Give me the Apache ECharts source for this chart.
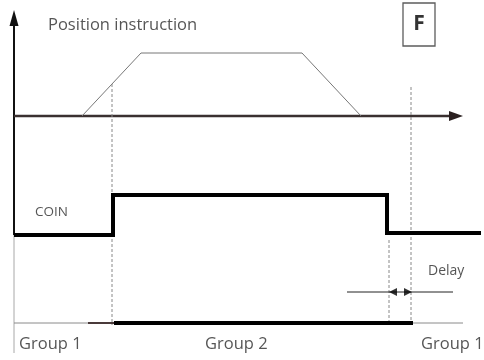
<!DOCTYPE html>
<html>
<head>
<meta charset="utf-8">
<script src="https://cdn.jsdelivr.net/npm/echarts@6/dist/echarts.min.js"></script>
<style>
    html, body { margin: 0; padding: 0; background: #fff; }
    #chart { width: 484px; height: 360px; }
</style>
</head>
<body>
<div id="chart"></div>
<script>
// timing points (horizontal) and signal levels (vertical) of the diagram
const axisOrigin = [14, 116]
const axisEnd = [463, 10]
const axisBottom = 353
const positionTimes = [82, 141, 302, 361]
const positionLevels = [116, 53, 53, 116]
const coinTimes = [14, 113, 113, 387, 387, 481]
const coinLevels = [235, 235, 195, 195, 233, 233]
const groupLevel = 323
const groupRange = [14, 463]
const pendingRange = [88, 114]
const group2Range = [114, 413]
const guideTimes = [112, 389, 411]
const guideTops = [84, 240, 87]
const guideBottoms = [325, 323, 325]
const delayLevel = 292
const delayLine = [347, 453]
const delayArrows = [389, 412]
const groupLabels = ['Group 1', 'Group 2', 'Group 1']
const groupLabelTimes = [19, 205, 421]
const groupLabelLevel = 344

const font = '"Open Sans", sans-serif'

const pairs = (xs, ys) => xs.map((x, i) => [x, ys[i]])

const line = (data, color, width, extra) => ({
    type: 'line',
    data: data,
    symbol: 'none',
    silent: true,
    lineStyle: Object.assign({ color: color, width: width, cap: 'butt', join: 'miter' }, extra || {}),
    z: 2,
})

const textPoint = (x, y, text, size, align, extra) => ({
    value: [x, y],
    label: Object.assign({
        show: true, formatter: text, position: 'inside', align: align || 'left',
        verticalAlign: 'middle', color: '#2b2b2b', fontSize: size, fontFamily: font,
    }, extra || {}),
})

const series = []

// axes with arrow heads
series.push(line([
    [axisOrigin[0], coinLevels[0]],
    { value: [axisOrigin[0], axisEnd[1] + 8], symbol: 'triangle', symbolSize: [9, 16] },
], '#111', 2))
series[series.length - 1].itemStyle = { color: '#111' }
series.push(line([[axisOrigin[0], coinLevels[0]], [axisOrigin[0], axisBottom]], '#a8a8a8', 1))
series.push(line([
    [axisOrigin[0], axisOrigin[1]],
    { value: [axisEnd[0] - 7, axisOrigin[1]], symbol: 'triangle', symbolRotate: -90, symbolSize: [10, 14] },
], '#3a3030', 2.5))
series[series.length - 1].itemStyle = { color: '#2a2020' }

// position instruction
series.push(line(pairs(positionTimes, positionLevels), '#777', 1))

// dashed guides
guideTimes.forEach((t, i) => {
    series.push(line([[t, guideTops[i]], [t, guideBottoms[i]]], '#888', 1, { type: [3, 2] }))
})

// COIN signal
series.push(line(pairs(coinTimes, coinLevels), '#000', 4))

// group line
series.push(line([[groupRange[0], groupLevel], [groupRange[1], groupLevel]], '#8a8a8a', 1))
series.push(line([[pendingRange[0], groupLevel], [pendingRange[1], groupLevel]], '#4a3a3a', 2))
series.push(line([[group2Range[0], groupLevel], [group2Range[1], groupLevel]], '#000', 4))

// delay marker
series.push(line([[delayLine[0], delayLevel], [delayLine[1], delayLevel]], '#222', 1))
series.push({
    type: 'scatter',
    silent: true,
    data: [
        { value: [delayArrows[0] + 4, delayLevel], symbolRotate: 90 },
        { value: [delayArrows[1] - 4, delayLevel], symbolRotate: -90 },
    ],
    symbol: 'triangle',
    symbolSize: [8, 8],
    itemStyle: { color: '#000' },
    z: 3,
})

// texts and the F box
const texts = [
    textPoint(48, 25, 'Position instruction', 16.5),
    textPoint(35, 212, 'COIN', 13.5),
    textPoint(428, 271, 'Delay', 14),
]
groupLabels.forEach((g, i) => texts.push(textPoint(groupLabelTimes[i], groupLabelLevel, g, 16.5)))
series.push({
    type: 'scatter',
    silent: true,
    data: texts,
    symbolSize: 0,
    z: 4,
})
series.push({
    type: 'scatter',
    silent: true,
    data: [textPoint(419, 24.5, 'F', 21, 'center', { fontWeight: 'bold', color: '#000' })],
    symbol: 'rect',
    symbolSize: [32, 43],
    itemStyle: { color: '#fff', borderColor: '#333', borderWidth: 1.5 },
    z: 4,
})

const chart = echarts.init(document.getElementById('chart'))
chart.setOption({
    animation: false,
    backgroundColor: '#fff',
    grid: { left: 0, right: 0, top: 0, bottom: 0 },
    xAxis: { type: 'value', min: 0, max: 484, show: false },
    yAxis: { type: 'value', min: 0, max: 360, inverse: true, show: false },
    series: series,
})
</script>
</body>
</html>
